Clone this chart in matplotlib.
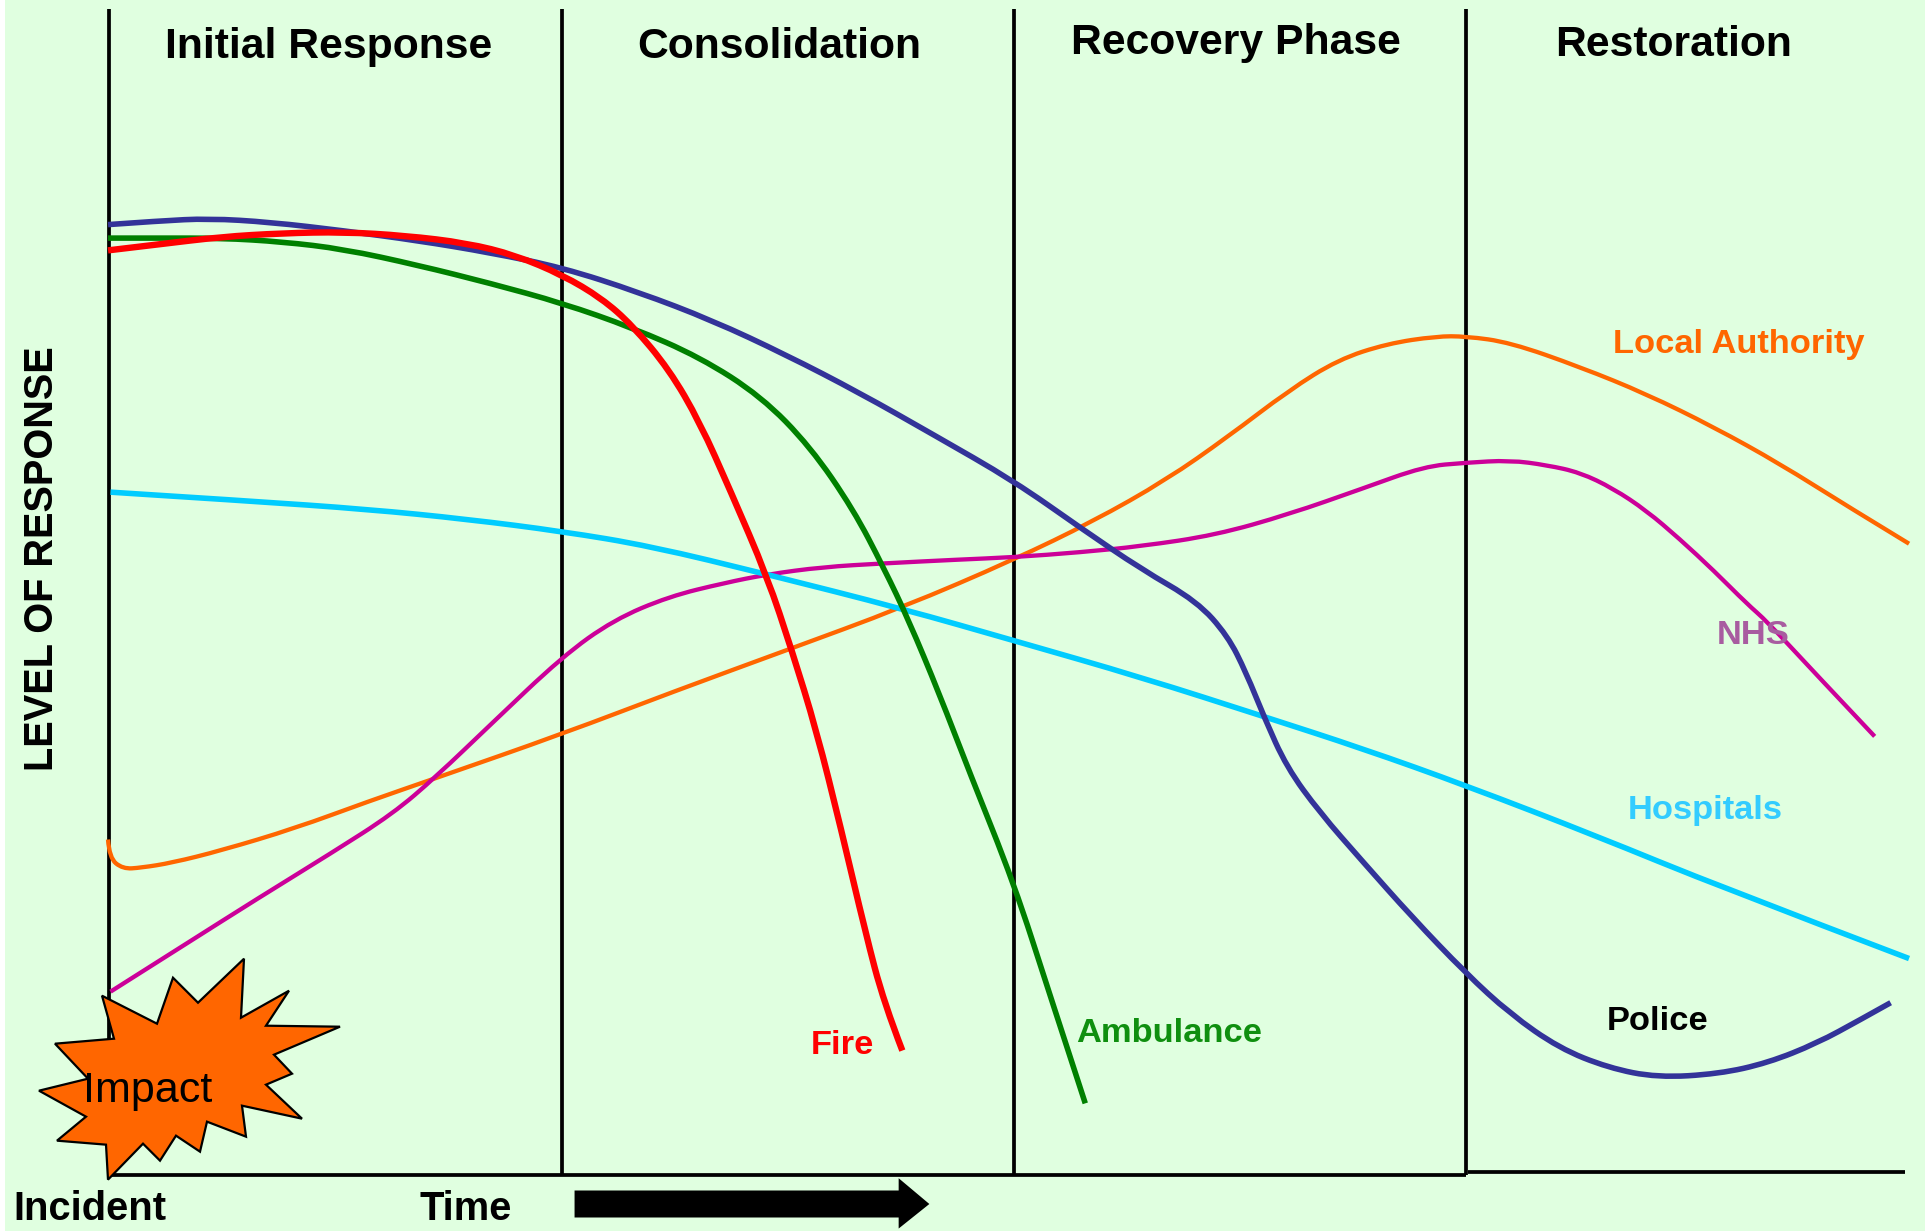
"""Emergency response phases chart, axes in shrunk reference pixels"""
import numpy as np, matplotlib
matplotlib.use('Agg')
import matplotlib.pyplot as plt
from matplotlib.patches import Polygon, Rectangle, PathPatch
from matplotlib.path import Path
plt.rcParams.update({'font.family':['Liberation Sans','DejaVu Sans']})
BG='#E0FFE0'
S=1925/1568

phase_x=[88.5,458,826,1194]
phase_names=['Initial Response','Consolidation','Recovery Phase','Restoration']

police=[(88,183),(130,180),(170,178),(220,181),(280,188),(340,196),(400,206),(458,218),(520,238),(580,261),(640,289),(700,320),(760,354),(826,392),(880,430),(930,464),(975,490),(1000,518),(1015,548),(1030,585),(1048,625),(1075,662),(1110,702),(1150,747),(1194,793),(1230,826),(1270,854),(1310,870),(1350,878),(1400,875),(1440,866),(1480,850),(1515,831),(1540,817)]
ambulance=[(88,194),(130,194),(180,194),(230,197),(280,203),(340,216),(400,231),(458,247),(515,267),(570,291),(620,323),(660,364),(695,415),(720,463),(740,505),(765,565),(790,630),(826,720),(855,810),(884,899)]
fire=[(88,204),(130,199),(180,193),(230,190),(280,189),(330,192),(380,198),(420,208),(458,224),(490,243),(515,265),(545,301),(570,344),(595,400),(625,470),(645,530),(665,595),(685,675),(705,760),(720,817),(735,856)]
hospitals=[(90,401),(200,408),(300,415),(380,423),(458,433),(530,445),(625,468),(735,496),(826,522),(930,552),(1030,584),(1110,610),(1194,640),(1300,681),(1400,722),(1555,781)]
nhs=[(90,808),(150,770),(210,732),(270,695),(320,663),(355,633),(400,590),(458,535),(500,505),(545,486),(590,475),(625,468),(670,462),(720,459),(780,456),(826,454),(880,450),(930,445),(990,436),(1050,419),(1110,398),(1160,380),(1194,377),(1230,375),(1260,379),(1287,385),(1314,398),(1341,416),(1368,439),(1396,465),(1423,492),(1439,506),(1477,547),(1527,600)]
local_auth=[(88,684),(89,699),(100,708),(115,707),(140,703),(180,693),(240,675),(300,653),(355,634),(458,598),(550,563),(640,530),(735,495),(826,456),(890,425),(950,391),(1000,356),(1050,318),(1090,293),(1130,280),(1170,274),(1194,274),(1230,279),(1287,299),(1341,321),(1396,348),(1450,378),(1504,412),(1555,443)]

# starburst outline, full size pixels
burst_x=[102,157,173,198,244,241,289,266,340,274,292,266,302,242,246,207,200,176,160,143,108,106,57,86,39,88,55,114]
burst_y=[996,1024,978,1003,959,1018,991,1026,1027,1055,1074,1085,1119,1106,1137,1122,1152,1136,1161,1144,1180,1145,1141,1117,1091,1079,1044,1039]

def smooth(pts):
    # read points act as control points of quadratic curves
    a=np.array(pts,dtype=float)
    verts=[a[0]]; codes=[Path.MOVETO]
    for i in range(1,len(a)-1):
        end=a[-1] if i==len(a)-2 else (a[i]+a[i+1])/2
        verts+=[a[i],end]; codes+=[Path.CURVE3,Path.CURVE3]
    return Path(verts,codes)

fig=plt.figure(figsize=(19.25,12.31),dpi=100,facecolor='white')
ax=fig.add_axes([0,0,1,1])
ax.set_xlim(0,1568); ax.set_ylim(1003,0); ax.axis('off')
ax.add_patch(Rectangle((4,0),1564,1003,color=BG,lw=0,zorder=0))

for x in phase_x:
    ax.plot([x,x],[7,957],color='k',lw=2.7,solid_capstyle='butt',zorder=1)
ax.plot([88,1194],[957,957],color='k',lw=2.7,solid_capstyle='butt',zorder=1)
ax.plot([1196,1552],[955,955],color='k',lw=2.7,solid_capstyle='butt',zorder=1)

for pts,c,lw in [(local_auth,'#FF6600',3.1),(nhs,'#CC0099',3.1),(hospitals,'#00CCFF',4.0),
                 (police,'#333399',4.0),(ambulance,'#008000',4.0),(fire,'#FF0000',4.6)]:
    ax.add_patch(PathPatch(smooth(pts),fill=False,ec=c,lw=lw,capstyle='butt',joinstyle='round',zorder=2))

burst=np.column_stack([burst_x,burst_y])/S
ax.add_patch(Polygon(burst,closed=True,fc='#FF6600',ec='k',lw=1.6,zorder=3))
ax.text(120,889,'Impact',fontsize=31,color='k',ha='center',va='center',zorder=4)

for name,x,y in zip(phase_names,[268,635,1007,1363],[38,38,35,37]):
    ax.text(x,y,name,fontsize=30.7,fontweight='bold',ha='center',va='center')
ax.text(34,455,'LEVEL OF RESPONSE',fontsize=28.6,fontweight='bold',rotation=90,ha='center',va='center')
ax.text(73,985,'Incident',fontsize=28.7,fontweight='bold',ha='center',va='center')
ax.text(379,985,'Time',fontsize=28.7,fontweight='bold',ha='center',va='center')

labels=[('Local Authority',1416,281,'#FF6600'),('NHS',1428,518,'#A85CA0'),('Hospitals',1389,660,'#33CCFF'),
        ('Police',1350,832,'k'),('Ambulance',952,842,'#0F8F0F'),('Fire',686,852,'#FF0000')]
for t,x,y,c in labels:
    ax.text(x,y,t,fontsize=24.8,fontweight='bold',color=c,ha='center',va='center',zorder=4)

ax.add_patch(Polygon([(468,970),(732,970),(732,960),(757,981),(732,1001),(732,992),(468,992)],closed=True,fc='k',ec='none',zorder=3))
fig.savefig('out.png',dpi=100,facecolor='white')
